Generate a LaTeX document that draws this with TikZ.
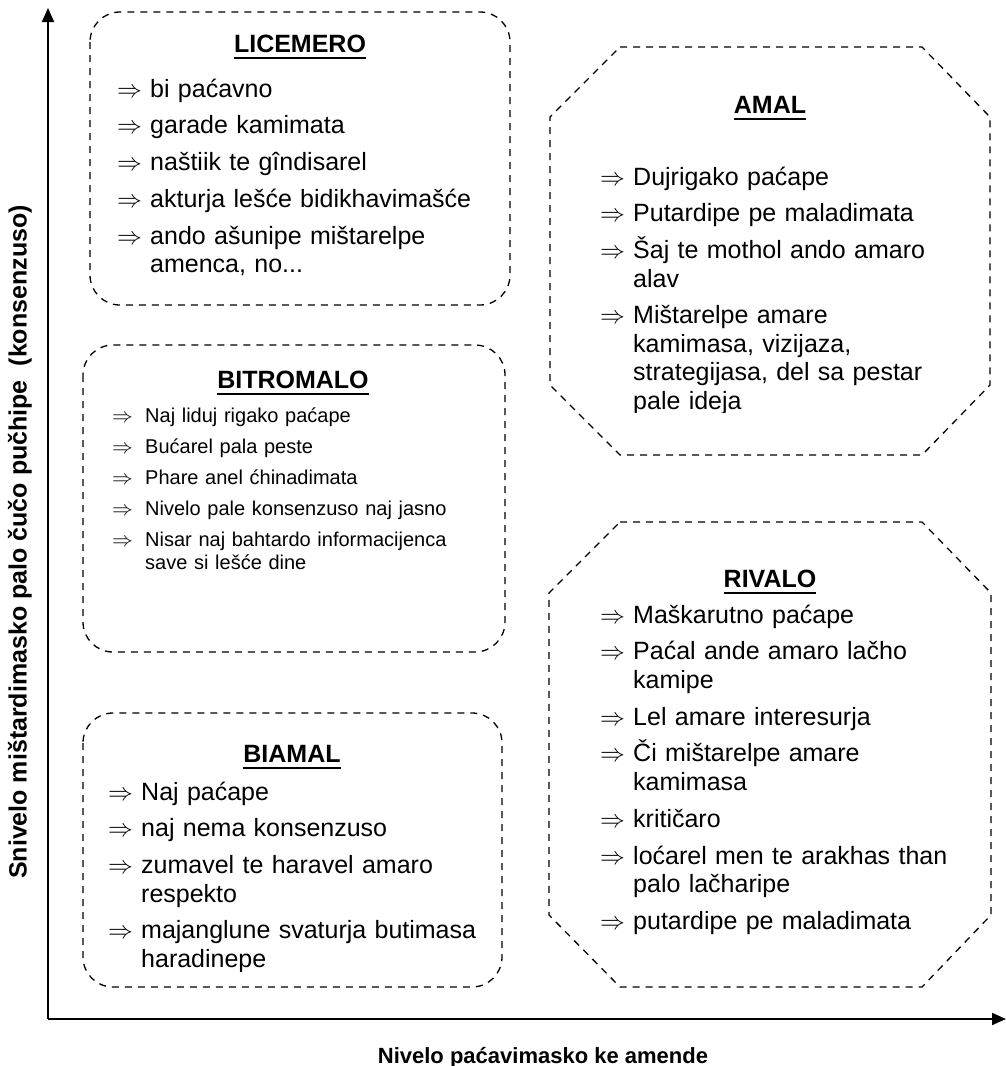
\documentclass[tikz,border=0pt]{standalone}
\usepackage{fontspec}
\setmainfont{Liberation Sans}
\usetikzlibrary{arrows.meta}
\newsavebox{\ttlbox}
\newcommand{\ttl}[1]{\sbox\ttlbox{#1}\rlap{\rule[-7.3pt]{\wd\ttlbox}{2.6pt}}\usebox\ttlbox}
\newcommand{\arritem}[2][33pt]{\hangindent=#1\hangafter=1\noindent\makebox[#1][l]{$\Rightarrow$}#2\par}
\begin{document}
\begin{tikzpicture}[x=1pt,y=-1pt,
  dashbox/.style={dash pattern=on 7pt off 6pt,line width=1.3pt},
  axis/.style={line width=2pt,-{Triangle[length=14pt,width=12pt]}},
  title/.style={anchor=base,inner sep=0pt,font=\fontsize{25pt}{30pt}\selectfont\bfseries},
  list/.style={anchor=base west,inner sep=0pt,text width=380pt,align=left,font=\fontsize{25pt}{28.5pt}\selectfont},
  smalllist/.style={list,font=\fontsize{20pt}{23pt}\selectfont},
  axislabel/.style={inner sep=0pt,font=\fontsize{#1}{#1}\selectfont\bfseries}]
\useasboundingbox (0,0) rectangle (1006,1066);
% axes
\coordinate (origin) at (48,1019);
\coordinate (ytop) at (48,8);
\coordinate (xend) at (1006,1019);
\draw[axis] (origin) -- (ytop);
\draw[axis] (origin) -- (xend);
\node[axislabel=25pt,rotate=90] (ylabel) at (20,542) {Snivelo mištardimasko palo čučo pučhipe \ (konsenzuso)};
\node[axislabel=22pt,anchor=base] (xlabel) at (543,1063) {Nivelo paćavimasko ke amende};
% licemero
\draw[dashbox,rounded corners=30pt] (90,12) rectangle (510,305);
\node[title] (licemero) at (300,52) {\ttl{LICEMERO}};
\node[list] (licemerolist) at (117,97) {\setlength{\parskip}{8.3pt}%
\arritem{bi paćavno}
\arritem{garade kamimata}
\arritem{naštiik te gîndisarel}
\arritem{akturja lešće bidikhavimašće}
\arritem{ando ašunipe mištarelpe\newline amenca, no...}};
% bitromalo
\draw[dashbox,rounded corners=30pt] (83,345) rectangle (505,652);
\node[title] (bitromalo) at (293,388) {\ttl{BITROMALO}};
\node[smalllist] (bitromalolist) at (112,422) {\setlength{\parskip}{8.2pt}%
\arritem{Naj liduj rigako paćape}
\arritem{Bućarel pala peste}
\arritem{Phare anel ćhinadimata}
\arritem{Nivelo pale konsenzuso naj jasno}
\arritem{Nisar naj bahtardo informacijenca\newline save si lešće dine}};
% biamal
\draw[dashbox,rounded corners=30pt] (83,713) rectangle (502,987);
\node[title] (biamal) at (292,762) {\ttl{BIAMAL}};
\begin{scope}
\clip (80,700) rectangle (505,971);
\node[list] (biamallist) at (108,800) {\setlength{\parskip}{8.3pt}%
\arritem{Naj paćape}
\arritem{naj nema konsenzuso}
\arritem{zumavel te haravel amaro\newline respekto}
\arritem{majanglune svaturja butimasa\newline haradinepe}};
\end{scope}
% amal
\draw[dashbox] (620,47) -- (922,47) -- (990,117) -- (990,385) -- (922,455) -- (620,455) -- (550,385) -- (550,117) -- cycle;
\node[title] (amal) at (770,113) {\ttl{AMAL}};
\begin{scope}
\clip (540,40) rectangle (1000,412);
\node[list] (amallist) at (600,185) {\setlength{\parskip}{8.3pt}%
\arritem{Dujrigako paćape}
\arritem{Putardipe pe maladimata}
\arritem{Šaj te mothol ando amaro\newline alav}
\arritem{Mištarelpe amare\newline kamimasa, vizijaza,\newline strategijasa, del sa pestar\newline pale ideja}};
\end{scope}
% rivalo
\draw[dashbox] (620,522) -- (922,522) -- (991,593) -- (991,915) -- (922,987) -- (620,987) -- (549,915) -- (549,593) -- cycle;
\node[title] (rivalo) at (770,587) {\ttl{RIVALO}};
\node[list] (rivalolist) at (600,623) {\setlength{\parskip}{8.3pt}%
\arritem{Maškarutno paćape}
\arritem{Paćal ande amaro lačho\newline kamipe}
\arritem{Lel amare interesurja}
\arritem{Či mištarelpe amare\newline kamimasa}
\arritem{kritičaro}
\arritem{loćarel men te arakhas than\newline palo lačharipe}
\arritem{putardipe pe maladimata}};
\end{tikzpicture}
\end{document}
